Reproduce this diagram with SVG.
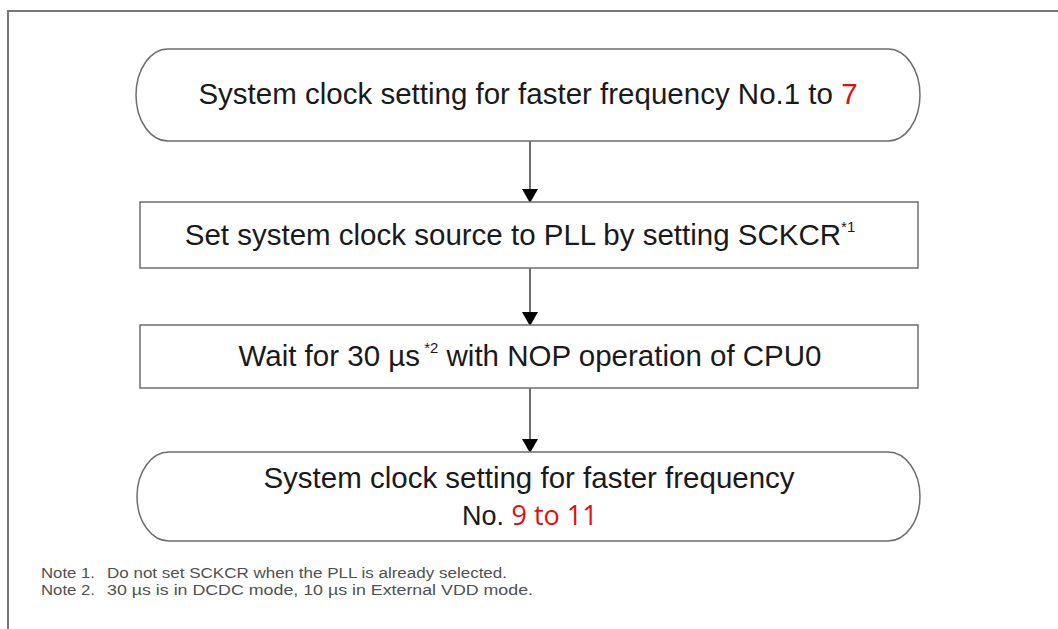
<svg xmlns="http://www.w3.org/2000/svg" width="1058" height="629" viewBox="0 0 1058 629">
<style>
.shape{fill:#fff;stroke:#6e6e6e;stroke-width:1.5}
.t{font-family:"Liberation Sans",Arial,sans-serif;font-size:29.5px;fill:#1a1a1a;text-anchor:middle}
.red{fill:#e01010}
.note{font-family:"Liberation Sans",Arial,sans-serif;font-size:14px;fill:#505050}
.conn{stroke:#222;stroke-width:1.3;fill:none}
</style>
<defs>
<marker id="ah" markerWidth="14" markerHeight="16" refX="13" refY="8" orient="auto" markerUnits="userSpaceOnUse">
<path d="M0,0 L14,8 L0,16 z" fill="#000"/>
</marker>
</defs>
<rect width="1058" height="629" fill="#fff"/>
<rect x="8" y="11" width="1080" height="640" fill="none" stroke="#777" stroke-width="2"/>
<g id="connectors">
<line class="conn" x1="530" y1="141" x2="530" y2="202" marker-end="url(#ah)"/>
<line class="conn" x1="530" y1="268" x2="530" y2="325" marker-end="url(#ah)"/>
<line class="conn" x1="530" y1="388" x2="530" y2="452" marker-end="url(#ah)"/>
</g>
<g id="start">
<rect class="shape" x="136" y="49" width="784" height="92" rx="32" ry="46"/>
<text class="t" x="528" y="104">System clock setting for faster frequency No.1 to <tspan class="red">7</tspan></text>
</g>
<g id="setPLL">
<rect class="shape" x="140" y="202" width="778" height="66"/>
<text class="t" x="520" y="245">Set system clock source to PLL by setting SCKCR<tspan font-size="15" dy="-13">*1</tspan></text>
</g>
<g id="wait">
<rect class="shape" x="140" y="325" width="778" height="63"/>
<text class="t" x="530" y="366">Wait for 30 µs<tspan font-size="15" dy="-13"> *2</tspan><tspan dy="13"> with NOP operation of CPU0</tspan></text>
</g>
<g id="end">
<rect class="shape" x="137" y="452" width="783" height="89" rx="32" ry="44.5"/>
<text class="t" x="529" y="488">System clock setting for faster frequency</text>
<text class="t" x="462" y="525" style="text-anchor:start;font-size:27px">No. <tspan class="red" font-family="'Open Sans','Noto Sans',sans-serif" font-size="27">9 to 11</tspan></text>
</g>
<g id="notes">
<text class="note" x="41" y="578" textLength="54" lengthAdjust="spacingAndGlyphs">Note 1.</text>
<text class="note" x="107" y="578" textLength="400" lengthAdjust="spacingAndGlyphs">Do not set SCKCR when the PLL is already selected.</text>
<text class="note" x="41" y="595" textLength="54" lengthAdjust="spacingAndGlyphs">Note 2.</text>
<text class="note" x="107" y="595" textLength="426" lengthAdjust="spacingAndGlyphs">30 µs is in DCDC mode, 10 µs in External VDD mode.</text>
</g>
</svg>
